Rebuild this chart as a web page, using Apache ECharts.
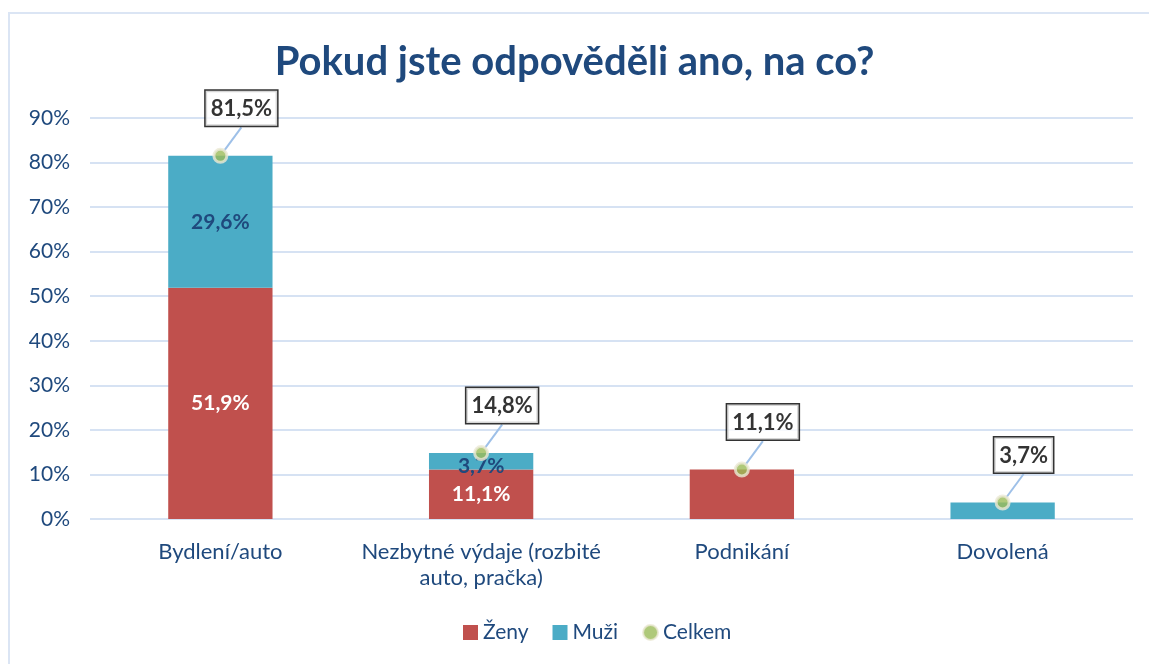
<!DOCTYPE html>
<html>
<head>
<meta charset="utf-8">
<script src="https://cdn.jsdelivr.net/npm/echarts@6/dist/echarts.min.js"></script>
<style>
html, body { margin: 0; padding: 0; background: #fff; }
#chart { width: 1149px; height: 664px; }
</style>
</head>
<body>
<div id="chart"></div>
<script>
// data
var categories = ["Bydlení/auto", "Nezbytné výdaje (rozbité\nauto, pračka)", "Podnikání", "Dovolená"];
var zenyValues = [51.9, 11.1, 11.1, 0];
var muziValues = [29.6, 3.7, 0, 3.7];
var celkemValues = [81.5, 14.8, 11.1, 3.7];
var seriesNames = ["Ženy", "Muži", "Celkem"];

var textBlue = "#1f497d";
var font = "Lato";

function pct(v) {
	return v.toFixed(1).replace(".", ",") + "%";
}

var chart = echarts.init(document.getElementById("chart"));

var options = {
	animation: false,
	textStyle: { fontFamily: font },
	graphic: [{
		type: "rect",
		shape: { x: 9, y: 13, width: 1200, height: 700 },
		style: { fill: "none", stroke: "#dbe5f4", lineWidth: 2 },
		silent: true,
		z: -1
	}],
	title: {
		text: "Pokud jste odpověděli ano, na co?",
		left: "center",
		top: 37,
		textStyle: { color: textBlue, fontSize: 40, fontWeight: "bold", fontFamily: font }
	},
	grid: {
		left: 90,
		right: 16,
		top: 118,
		bottom: 145
	},
	legend: {
		bottom: 16,
		left: 458,
		itemGap: 24,
		itemWidth: 15,
		itemHeight: 15,
		textStyle: { color: textBlue, fontSize: 21, fontFamily: font },
		data: [
			{ name: "Ženy", icon: "rect" },
			{ name: "Muži", icon: "rect" },
			{ name: "Celkem", icon: "circle" }
		]
	},
	xAxis: {
		type: "category",
		data: categories,
		axisLine: { show: false },
		axisTick: { show: false },
		axisLabel: { interval: 0, color: textBlue, fontSize: 22, margin: 20, lineHeight: 26, fontFamily: font }
	},
	yAxis: {
		type: "value",
		min: 0,
		max: 90,
		interval: 10,
		axisLabel: {
			color: textBlue,
			fontSize: 21,
			margin: 20,
			fontFamily: font,
			formatter: function(v) { return v + "%"; }
		},
		splitLine: { lineStyle: { color: "#d6e2f3", width: 2 } }
	},
	series: [{
		name: "Ženy",
		type: "bar",
		stack: "total",
		barWidth: "40%",
		data: zenyValues,
		itemStyle: { color: "#c0504d" },
		label: {
			show: true,
			position: "inside",
			color: "#fff",
			fontSize: 21,
			fontWeight: "bold",
			fontFamily: font,
			formatter: function(p) { return p.dataIndex < 2 ? pct(p.value) : ""; }
		}
	}, {
		name: "Muži",
		type: "bar",
		stack: "total",
		barWidth: "40%",
		data: muziValues,
		itemStyle: { color: "#4bacc6" },
		label: {
			show: true,
			position: "inside",
			color: textBlue,
			fontSize: 21,
			fontWeight: "bold",
			fontFamily: font,
			formatter: function(p) { return p.dataIndex < 2 ? pct(p.value) : ""; }
		},
		labelLayout: function(params) {
			if (params.dataIndex === 1) {
				return { dy: 5 };
			}
			return {};
		}
	}, {
		name: "Celkem",
		type: "scatter",
		data: celkemValues,
		symbolSize: 13,
		z: 5,
		itemStyle: { color: "#9bbb59", borderColor: "#ebe9d4", borderWidth: 3 },
		label: {
			show: true,
			position: "top",
			color: "#000",
			fontSize: 22,
			fontWeight: "bold",
			fontFamily: font,
			backgroundColor: "#fff",
			borderColor: "#000",
			borderWidth: 1.5,
			padding: [7, 5, 6, 5],
			formatter: function(p) { return pct(p.value); }
		},
		labelLayout: {
			dx: 21,
			dy: -17
		},
		labelLine: {
			show: true,
			lineStyle: { color: "#9ec0e8", width: 2 }
		}
	}]
};

chart.setOption(options);
</script>
</body>
</html>
